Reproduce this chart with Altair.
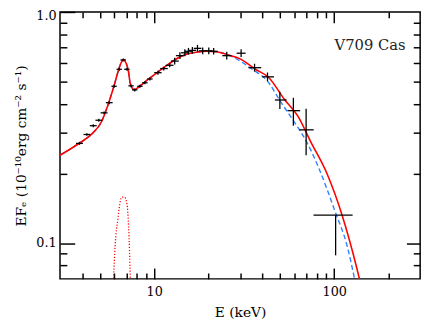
import altair as alt
import pandas as pd

# ---- data ----
# observed spectrum points (keV, EF_E)
pt_x = [3.85, 4.23, 4.59, 4.93, 5.27, 5.63, 5.99, 6.40, 6.73, 7.06, 7.44, 7.80, 8.33, 8.88, 9.47,
        10.5, 11.3, 12.2, 13.0, 13.9, 14.8, 15.5, 16.3, 17.4, 18.6, 20.1, 21.4, 25.3, 30.4,
        36.1, 42.6, 49.9, 59.3, 69.8, 101.8]
pt_xlo = [3.68, 4.05, 4.39, 4.72, 5.04, 5.39, 5.79, 6.18, 6.50, 6.82, 7.19, 7.54, 8.05, 8.58, 9.15,
          10.0, 10.8, 11.6, 12.4, 13.2, 14.1, 14.8, 15.5, 16.6, 17.7, 19.1, 20.4, 23.9, 28.7,
          33.4, 39.8, 46.8, 55.0, 64.0, 76.7]
pt_xhi = [4.02, 4.42, 4.80, 5.15, 5.51, 5.88, 6.20, 6.62, 6.97, 7.31, 7.70, 8.07, 8.62, 9.19, 9.80,
          11.0, 11.9, 12.8, 13.7, 14.6, 15.5, 16.3, 17.1, 18.3, 19.5, 21.1, 22.5, 26.8, 32.2,
          39.3, 46.3, 54.4, 64.7, 76.9, 126.5]
pt_y = [0.270, 0.295, 0.322, 0.340, 0.366, 0.405, 0.477, 0.565, 0.620, 0.565, 0.479, 0.460, 0.477, 0.494, 0.513,
        0.546, 0.569, 0.588, 0.613, 0.647, 0.666, 0.676, 0.682, 0.696, 0.679, 0.679, 0.676, 0.647, 0.663,
        0.574, 0.524, 0.416, 0.374, 0.309, 0.132]
pt_ylo = [0.266, 0.291, 0.317, 0.335, 0.361, 0.399, 0.470, 0.557, 0.611, 0.557, 0.472, 0.453, 0.470, 0.487, 0.505,
          0.535, 0.558, 0.577, 0.593, 0.626, 0.644, 0.654, 0.660, 0.673, 0.657, 0.657, 0.654, 0.623, 0.638,
          0.552, 0.502, 0.380, 0.322, 0.240, 0.0885]
pt_yhi = [0.274, 0.299, 0.327, 0.345, 0.371, 0.411, 0.484, 0.573, 0.629, 0.573, 0.486, 0.467, 0.484, 0.501, 0.521,
          0.557, 0.580, 0.600, 0.634, 0.669, 0.689, 0.699, 0.705, 0.720, 0.702, 0.702, 0.699, 0.672, 0.689,
          0.597, 0.547, 0.452, 0.425, 0.381, 0.132]

# total model (red solid)
red_x = [3.0, 3.80, 4.49, 5.10, 5.54, 5.97, 6.36, 6.55, 6.75, 6.97, 7.19, 7.37, 7.75, 8.42, 9.16,
         10.4, 11.8, 13.4, 15.1, 17.2, 19.5, 22.1, 26.0, 30.2, 36.5, 43.1, 53.2, 62.8, 74.3,
         91.6, 110.6, 133.5, 138.0]
red_y = [0.240, 0.269, 0.296, 0.335, 0.396, 0.476, 0.565, 0.603, 0.622, 0.603, 0.556, 0.489, 0.461, 0.481, 0.508,
         0.547, 0.589, 0.629, 0.656, 0.670, 0.676, 0.673, 0.650, 0.625, 0.565, 0.522, 0.416, 0.354, 0.273,
         0.198, 0.132, 0.0778, 0.070]

# alternative model (blue dashed)
blue_x = [3.0, 3.80, 4.49, 5.10, 5.54, 5.97, 6.36, 6.55, 6.75, 6.97, 7.19, 7.37, 7.75, 8.42, 9.16,
          10.4, 11.8, 13.4, 15.1, 17.2, 19.5, 22.1, 26.0, 28.4, 35.0, 42.3, 51.0, 60.3, 70.5,
          82.5, 101.8, 117.8, 129.7]
blue_y = [0.240, 0.269, 0.296, 0.335, 0.396, 0.476, 0.565, 0.603, 0.622, 0.603, 0.556, 0.489, 0.461, 0.481, 0.508,
          0.547, 0.589, 0.629, 0.656, 0.670, 0.676, 0.673, 0.650, 0.629, 0.565, 0.505, 0.403, 0.332, 0.273,
          0.209, 0.135, 0.0975, 0.070]

# iron line component (red dotted)
line_x = [5.95, 6.07, 6.28, 6.50, 6.61, 6.84, 7.06, 7.21, 7.30, 7.37]
line_y = [0.0702, 0.0974, 0.126, 0.153, 0.158, 0.158, 0.148, 0.118, 0.0914, 0.0702]

label_text = ["V709 Cas"]
label_x = [158]
label_y = [0.72]

x_major = [10, 100]
x_minor = [4, 5, 6, 7, 8, 9, 20, 30, 40, 50, 60, 70, 80, 90, 200]
y_major_left = [0.1, 1.0]
y_major_right = [0.1]
y_minor = [0.08, 0.09, 0.2, 0.3, 0.4, 0.5, 0.6, 0.7, 0.8, 0.9]

# ---- frames ----
pts = pd.DataFrame({"x": pt_x, "xlo": pt_xlo, "xhi": pt_xhi, "y": pt_y, "ylo": pt_ylo, "yhi": pt_yhi})
red = pd.DataFrame({"x": red_x, "y": red_y})
blue = pd.DataFrame({"x": blue_x, "y": blue_y})
line = pd.DataFrame({"x": line_x, "y": line_y})
lab = pd.DataFrame({"t": label_text, "x": label_x, "y": label_y})

FONT = "DejaVu Serif"
xs = alt.Scale(type="log", domain=[3, 300], nice=False)
ys = alt.Scale(type="log", domain=[0.07, 1.0], nice=False)

def tick_axis(orient, values, length, labels=False, **kw):
    base = dict(orient=orient, values=values, offset=-length, tickSize=length, tickWidth=1.5,
                tickColor="black", domain=False, grid=False, labels=labels, title=None)
    base.update(kw)
    return alt.Axis(**base)

# axis set A: bottom/left major ticks with labels and titles
axA_x = tick_axis("bottom", x_major, 11, labels=True, format="d", labelPadding=7,
                  labelFont=FONT, labelFontSize=13, labelColor="black", labelFlush=False,
                  title="E (keV)", titleFont=FONT, titleFontSize=14, titleFontWeight="normal",
                  titleColor="black", titlePadding=7)
axA_y = tick_axis("left", y_major_left, 15, labels=True, format=".1f", labelPadding=4,
                  labelFont=FONT, labelFontSize=13, labelColor="black", labelFlush=True,
                  labelFlushOffset=2,
                  title="EFₑ (10⁻¹⁰erg cm⁻² s⁻¹)", titleFont=FONT, titleFontSize=14,
                  titleFontWeight="normal", titleColor="black", titlePadding=7)
axB_x = tick_axis("bottom", x_minor, 6)
axB_y = tick_axis("left", y_minor, 7)
axC_x = tick_axis("top", x_major, 11)
axC_y = tick_axis("right", y_major_right, 14)
axD_x = tick_axis("top", x_minor, 6)
axD_y = tick_axis("right", y_minor, 7)

blue_layer = alt.Chart(blue).mark_line(color="#2f80ff", strokeWidth=1.4, strokeDash=[5, 3],
                                       interpolate="monotone", clip=True).encode(
    x=alt.X("x:Q", scale=xs, axis=axA_x), y=alt.Y("y:Q", scale=ys, axis=axA_y))

red_layer = alt.Chart(red).mark_line(color="#ff0000", strokeWidth=1.6,
                                     interpolate="monotone", clip=True).encode(
    x=alt.X("x:Q", scale=xs, axis=axB_x), y=alt.Y("y:Q", scale=ys, axis=axB_y))

line_layer = alt.Chart(line).mark_line(color="#ff0000", strokeWidth=1.3, strokeDash=[1.2, 1.8],
                                       interpolate="monotone", clip=True).encode(
    x=alt.X("x:Q", scale=xs, axis=axC_x), y=alt.Y("y:Q", scale=ys, axis=axC_y))

xerr_layer = alt.Chart(pts).mark_rule(color="black", strokeWidth=1.3).encode(
    x=alt.X("xlo:Q", scale=xs, axis=axD_x), x2="xhi:Q",
    y=alt.Y("y:Q", scale=ys, axis=axD_y))

yerr_layer = alt.Chart(pts).mark_rule(color="black", strokeWidth=1.3).encode(
    x=alt.X("x:Q", scale=xs, axis=None),
    y=alt.Y("ylo:Q", scale=ys, axis=None), y2="yhi:Q")

text_layer = alt.Chart(lab).mark_text(font=FONT, fontSize=15, color="#222222",
                                      align="center", baseline="middle").encode(
    x=alt.X("x:Q", scale=xs, axis=None), y=alt.Y("y:Q", scale=ys, axis=None), text="t:N")

chart = alt.layer(blue_layer, red_layer, line_layer, xerr_layer, yerr_layer, text_layer).resolve_axis(
    x="independent", y="independent"
).properties(
    width=367, height=272,
    autosize=alt.AutoSizeParams(type="none"),
    padding={"left": 53, "top": 1, "right": 8, "bottom": 46},
).configure_view(stroke="black", strokeWidth=1.5)

chart.save("out.html", embed_options={"renderer": "svg", "actions": False})
